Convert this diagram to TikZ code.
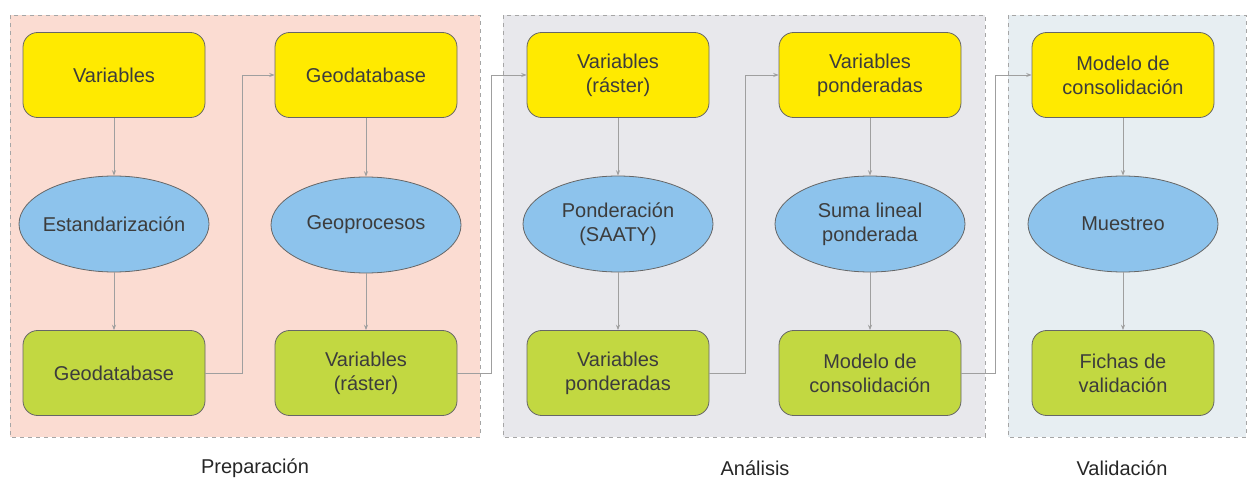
\documentclass[tikz,border=0pt]{standalone}
\usepackage{fontspec}
\setmainfont{Liberation Sans}
\usetikzlibrary{arrows.meta,shapes.geometric}

\definecolor{prepfill}{HTML}{FBDCD2}
\definecolor{anafill}{HTML}{E8E8EC}
\definecolor{valfill}{HTML}{E7EEF2}
\definecolor{inbox}{HTML}{FFEA00}
\definecolor{outbox}{HTML}{C2D841}
\definecolor{procfill}{HTML}{8DC3EC}
\definecolor{txt}{HTML}{3C3C3C}

\tikzset{
	stage/.style={draw=gray!70, dashed, line width=0.6pt},
	inputbox/.style={draw=gray!80!black, fill=inbox, rounded corners=11pt, line width=0.6pt,
		minimum width=136.5pt, minimum height=63.75pt, align=center, text=txt,
		font=\fontsize{15}{18}\selectfont},
	outputbox/.style={inputbox, fill=outbox},
	process/.style={ellipse, draw=gray!80!black, fill=procfill, line width=0.6pt,
		minimum width=142.5pt, minimum height=72pt, inner xsep=-5pt, inner ysep=0pt,
		align=center, text=txt, font=\fontsize{15}{18}\selectfont},
	flow/.style={draw=gray!75, line width=0.6pt, -{Stealth[length=4pt,width=3pt]}},
	stagelabel/.style={text=black!85, font=\fontsize{15}{18}\selectfont}
}

\begin{document}
\begin{tikzpicture}[x=0.75pt,y=0.75pt,yscale=-1,xscale=1]
	\useasboundingbox (0,0) rectangle (1249,478);
	
	%Stage panels
	\fill [prepfill] (10,15) rectangle (480,437);
	\draw [stage] (10,15) rectangle (480,437);
	\fill [anafill] (503,15) rectangle (985,437);
	\draw [stage] (503,15) rectangle (985,437);
	\fill [valfill] (1008,15) rectangle (1246,437);
	\draw [stage] (1008,15) rectangle (1246,437);
	
	% Column 1
	\node [inputbox] (var) at (114,75) {Variables};
	\node [process] (estand) at (114,224) {Estandarización};
	\node [outputbox] (gdb) at (114,373) {Geodatabase};
	% Column 2
	\node [inputbox] (gdbin) at (366,75) {Geodatabase};
	\node [process] (geoproc) at (366,225) {Geoprocesos};
	\node [outputbox] (raster) at (366,373) {Variables\\(ráster)};
	% Column 3
	\node [inputbox] (rasterin) at (618,75) {Variables\\(ráster)};
	\node [process] (saaty) at (618,224) {Ponderación\\(SAATY)};
	\node [outputbox] (pond) at (618,373) {Variables\\ponderadas};
	% Column 4
	\node [inputbox] (pondin) at (870,75) {Variables\\ponderadas};
	\node [process] (suma) at (870,224) {Suma lineal\\ponderada};
	\node [outputbox] (modelo) at (870,373) {Modelo de\\consolidación};
	% Column 5
	\node [inputbox] (modeloin) at (1123,75) {Modelo de\\consolidación};
	\node [process] (muestreo) at (1123,224) {Muestreo};
	\node [outputbox] (fichas) at (1123,373) {Fichas de\\validación};
	
	%Vertical flows
	\foreach \a/\b/\c in {var/estand/gdb, gdbin/geoproc/raster, rasterin/saaty/pond,
		pondin/suma/modelo, modeloin/muestreo/fichas}{
		\draw [flow] (\a) -- (\b);
		\draw [flow] (\b) -- (\c);
	}
	
	%Links between columns
	\draw [flow] (gdb.east) -- ++(37,0) |- (gdbin.west);
	\draw [flow] (raster.east) -- ++(34,0) |- (rasterin.west);
	\draw [flow] (pond.east) -- ++(36,0) |- (pondin.west);
	\draw [flow] (modelo.east) -- ++(34,0) |- (modeloin.west);
	
	% Text Node
	\node [stagelabel] (prep) at (255,468) {Preparación};
	% Text Node
	\node [stagelabel] (ana) at (755,468) {Análisis};
	% Text Node
	\node [stagelabel] (val) at (1122,468) {Validación};
\end{tikzpicture}
\end{document}
